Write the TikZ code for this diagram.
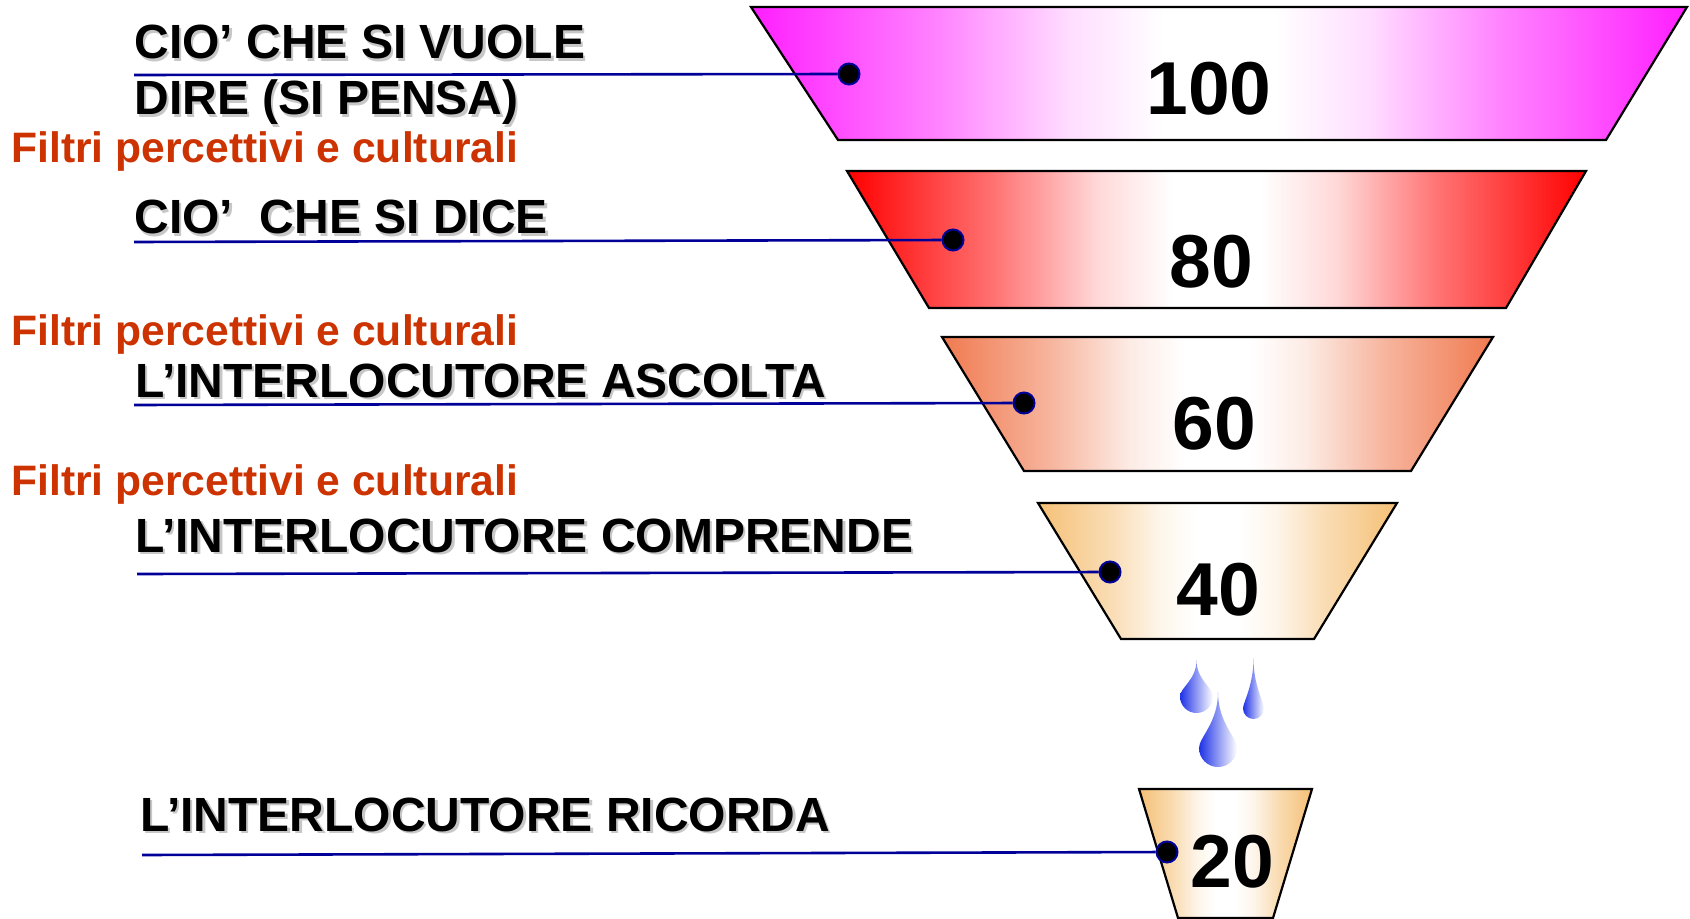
\documentclass[tikz,border=0pt]{standalone}
\usepackage{fontspec}
\setmainfont{Liberation Sans}
\usetikzlibrary{shapes,calc,positioning}
\definecolor{fmag}{RGB}{255,30,255}
\definecolor{fred}{RGB}{255,0,0}
\definecolor{fsal}{RGB}{240,122,80}
\definecolor{fora}{RGB}{245,192,118}
\definecolor{lblue}{RGB}{0,0,153}
\definecolor{txtred}{RGB}{204,51,0}
\definecolor{dblue}{RGB}{30,50,230}
\colorlet{edgecol}{fmag}
\pgfdeclarehorizontalshading[edgecol]{funnel}{100bp}{color(0bp)=(edgecol); color(25bp)=(edgecol); color(35bp)=(edgecol!55); color(42bp)=(edgecol!15); color(47bp)=(white); color(53bp)=(white); color(58bp)=(edgecol!15); color(65bp)=(edgecol!55); color(75bp)=(edgecol); color(100bp)=(edgecol)}
\def\sh#1{\makebox[0pt][l]{\hspace{1.2pt}\raisebox{-1.2pt}{\color{black!22}#1}}#1}
\def\drop(#1,#2,#3,#4){\shade[left color=dblue, right color=white]
  (#1,#2-#4) .. controls (#1,#2-0.45*#4) and (#1-#3,#2-0.55*#3) .. (#1-#3,#2)
  arc (180:0:#3) .. controls (#1+#3,#2-0.55*#3) and (#1,#2-0.45*#4) .. (#1,#2-#4) -- cycle;}

\begin{document}
\begin{tikzpicture}[x=0.5pt,y=-0.5pt,
  trap/.style={draw=black, line width=1.1pt, /utils/exec={\colorlet{edgecol}{#1}}, shading=funnel},
  num/.style={font=\fontsize{37.5}{40}\selectfont\bfseries},
  lbl/.style={anchor=base west, inner sep=0, font=\fontsize{24}{28}\selectfont\bfseries},
  filt/.style={anchor=base west, inner sep=0, text=txtred, font=\fontsize{21.3}{25}\selectfont\bfseries},
  dot/.style={circle, draw=lblue, fill=black, line width=1pt, minimum size=10.5pt, inner sep=0},
  link/.style={draw=lblue, line width=1.3pt}]
\useasboundingbox (0,0) rectangle (1690,919);

% funnel
\draw[trap=fmag] (751,7) -- (1687,7) -- (1606,140) -- (838,140) -- cycle;
\draw[trap=fred] (847,171) -- (1586,171) -- (1506,308) -- (929,308) -- cycle;
\draw[trap=fsal] (942,337) -- (1493,337) -- (1411,471) -- (1024,471) -- cycle;
\draw[trap=fora] (1038,503) -- (1397,503) -- (1314,639) -- (1121,639) -- cycle;
\draw[trap=fora] (1139,789) -- (1312,789) -- (1273,918) -- (1178,918) -- cycle;

\drop(1196.5,696.5,16.5,36.5)
\drop(1253.5,708.5,10.5,50.5)
\drop(1218,748,19,56)

\draw (1209,89) node (n100) [num] {100};
\draw (1211,262) node (n80) [num] {80};
\draw (1214,424) node (n60) [num] {60};
\draw (1218,590) node (n40) [num] {40};
\draw (1232,862) node (n20) [num] {20};

% texts
\draw (134,59) node (t1) [lbl] {\sh{CIO’ CHE SI VUOLE}};
\draw (134,115) node (t1b) [lbl] {\sh{DIRE (SI PENSA)}};
\draw (11,163) node (f1) [filt] {Filtri percettivi e culturali};
\draw (134,234) node (t2) [lbl] {\sh{CIO’\ \ CHE SI DICE}};
\draw (11,345) node (f2) [filt] {Filtri percettivi e culturali};
\draw (135,397) node (t3) [lbl] {\sh{L’INTERLOCUTORE ASCOLTA}};
\draw (11,495) node (f3) [filt] {Filtri percettivi e culturali};
\draw (135,552) node (t4) [lbl] {\sh{L’INTERLOCUTORE COMPRENDE}};
\draw (140,831) node (t5) [lbl] {\sh{L’INTERLOCUTORE RICORDA}};

% leaders
\coordinate (s1) at (134,75);
\coordinate (s2) at (134,242);
\coordinate (s3) at (134,405);
\coordinate (s4) at (137,574);
\coordinate (s5) at (142,855);
\draw (849,74) node (d1) [dot] {};
\draw (953,240) node (d2) [dot] {};
\draw (1024,403) node (d3) [dot] {};
\draw (1110,572) node (d4) [dot] {};
\draw (1167,852) node (d5) [dot] {};

\draw[link] (s1)--(d1);
\draw[link] (s2)--(d2);
\draw[link] (s3)--(d3);
\draw[link] (s4)--(d4);
\draw[link] (s5)--(d5);
\end{tikzpicture}
\end{document}
